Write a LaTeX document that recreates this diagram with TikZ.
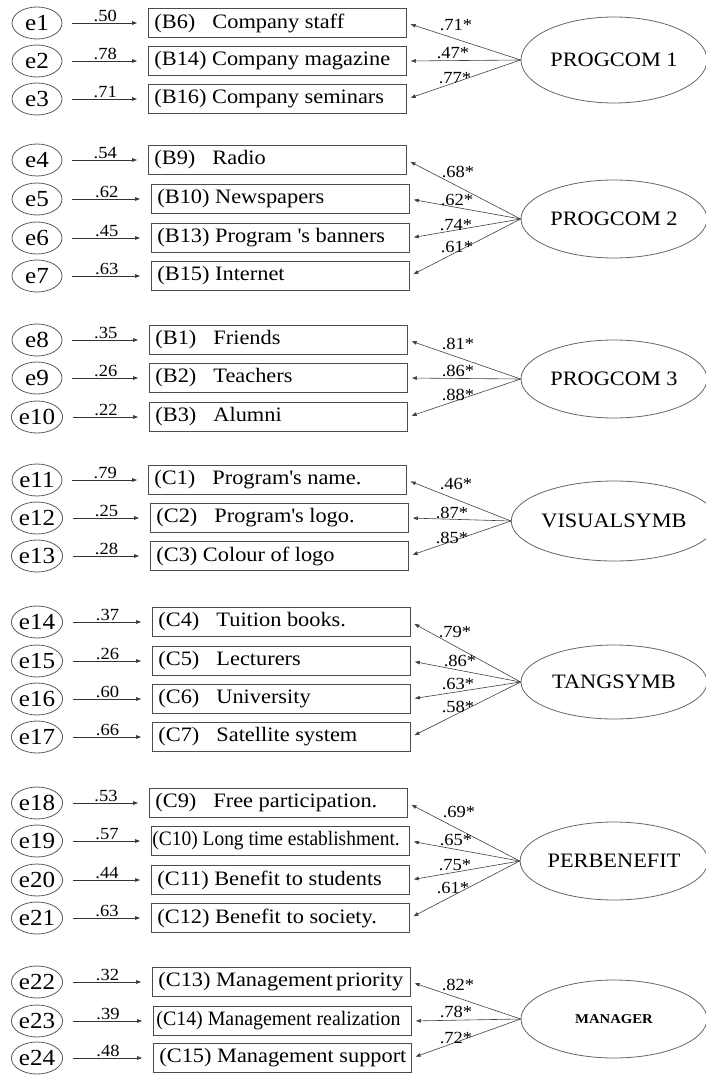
\documentclass[tikz,border=0pt]{standalone}
\usepackage{fontspec}
\setmainfont{Liberation Serif}[FakeStretch=1.09]
\usepackage{graphicx}
\usetikzlibrary{shapes.geometric,arrows.meta}

\tikzset{
  errnode/.style={ellipse, draw=black!65, line width=0.8pt, minimum width=50pt,
    minimum height=32pt, inner sep=0pt, font=\fontsize{23}{25}\selectfont},
  itembox/.style={rectangle, draw=black!70, line width=0.9pt, anchor=west,
    minimum height=29pt, minimum width=258pt, inner xsep=6pt, inner ysep=0pt,
    font=\fontsize{20.5}{22}\selectfont},
  factor/.style={ellipse, draw=black!60, line width=0.8pt, minimum width=186pt,
    minimum height=78pt, inner sep=0pt, font=\fontsize{20.5}{22}\selectfont},
  errarrow/.style={draw=black!80, line width=0.7pt,
    -{Triangle[length=5pt,width=3.6pt]}, shorten <=10pt, shorten >=11pt},
  loadarrow/.style={draw=black!75, line width=0.6pt,
    -{Triangle[length=5pt,width=3.6pt]}, shorten >=4pt},
  lbl/.style={font=\fontsize{17}{18}\selectfont, inner sep=1pt},
}

% item code set in a fixed-width column
\newcommand{\cd}[1]{\makebox[58pt][l]{#1}}
% straight apostrophe
\newcommand{\ap}{\textquotesingle}
% one indicator: error term, item box and the error path
\newcommand{\itemrow}[5]{%
  \node[errnode] (e#1) at (37,#2) {e#1};
  \node[itembox] (b#1) at (#3,#2) {\makebox[246pt][l]{#4}};
  \draw[errarrow] (e#1) -- (b#1.west) node[midway, above, lbl] (r#1) {#5};
}
% one loading: path from the factor to an item, with its estimate
\newcommand{\loadrow}[5]{%
  \draw[loadarrow] (#1.west) -- (b#2.east);
  \node[lbl] (l#2) at (#4,#5) {#3};
}

\begin{document}
\begin{tikzpicture}[x=1pt,y=-1pt]
\useasboundingbox (0,0) rectangle (706,1078);

% ---- PROGCOM 1
\itemrow{1}{23}{148}{\cd{(B6)}Company staff}{.50}
\itemrow{2}{61}{148}{(B14) Company magazine}{.78}
\itemrow{3}{99}{148}{(B16) Company seminars}{.71}
\node[factor, minimum height=86pt] (F1) at (614,60) {PROGCOM 1};
\loadrow{F1}{1}{.71*}{456}{25}
\loadrow{F1}{2}{.47*}{453}{53}
\loadrow{F1}{3}{.77*}{455}{78}

% ---- PROGCOM 2
\itemrow{4}{160}{148}{\cd{(B9)}Radio}{.54}
\itemrow{5}{199}{151}{(B10) Newspapers}{.62}
\itemrow{6}{238}{151}{(B13) Program \ap s banners}{.45}
\itemrow{7}{276}{151}{(B15) Internet}{.63}
\node[factor] (F2) at (614,219) {PROGCOM 2};
\loadrow{F2}{4}{.68*}{458}{172}
\loadrow{F2}{5}{.62*}{457}{200}
\loadrow{F2}{6}{.74*}{456}{225}
\loadrow{F2}{7}{.61*}{457}{247}

% ---- PROGCOM 3
\itemrow{8}{340}{149}{\cd{(B1)}Friends}{.35}
\itemrow{9}{378}{149}{\cd{(B2)}Teachers}{.26}
\itemrow{10}{417}{149}{\cd{(B3)}Alumni}{.22}
\node[factor] (F3) at (614,379) {PROGCOM 3};
\loadrow{F3}{8}{.81*}{458}{344}
\loadrow{F3}{9}{.86*}{458}{371}
\loadrow{F3}{10}{.88*}{458}{395}

% ---- VISUALSYMB
\itemrow{11}{480}{148}{\cd{(C1)}Program\ap s name.}{.79}
\itemrow{12}{518}{150}{\cd{(C2)}Program\ap s logo.}{.25}
\itemrow{13}{556}{150}{(C3) Colour of logo}{.28}
\node[factor, minimum height=80pt] (F4) at (614,521) {VISUALSYMB};
\loadrow{F4}{11}{.46*}{456}{484}
\loadrow{F4}{12}{.87*}{452}{513}
\loadrow{F4}{13}{.85*}{452}{538}

% ---- TANGSYMB
\itemrow{14}{622}{152}{\cd{(C4)}Tuition books.}{.37}
\itemrow{15}{661}{152}{\cd{(C5)}Lecturers}{.26}
\itemrow{16}{699}{152}{\cd{(C6)}University}{.60}
\itemrow{17}{737}{152}{\cd{(C7)}Satellite system}{.66}
\node[factor, minimum height=74pt] (F5) at (614,682) {TANGSYMB};
\loadrow{F5}{14}{.79*}{455}{632}
\loadrow{F5}{15}{.86*}{460}{661}
\loadrow{F5}{16}{.63*}{458}{684}
\loadrow{F5}{17}{.58*}{458}{707}

% ---- PERBENEFIT
\itemrow{18}{803}{149}{\cd{(C9)}Free participation.}{.53}
\itemrow{19}{841}{151}{\hspace*{-5pt}\scalebox{0.87}[1]{(C10) Long time establishment.}}{.57}
\itemrow{20}{880}{151}{(C11) Benefit to students}{.44}
\itemrow{21}{918}{151}{(C12) Benefit to society.}{.63}
\node[factor] (F6) at (614,861) {PERBENEFIT};
\loadrow{F6}{18}{.69*}{459}{812}
\loadrow{F6}{19}{.65*}{456}{840}
\loadrow{F6}{20}{.75*}{455}{865}
\loadrow{F6}{21}{.61*}{453}{888}

% ---- MANAGER
\itemrow{22}{982}{152}{(C13) Management\,priority}{.32}
\itemrow{23}{1021}{153}{\hspace*{-3pt}\scalebox{0.89}[1]{(C14) Management realization}}{.39}
\itemrow{24}{1058}{153}{(C15) Management support}{.48}
\node[factor, font=\bfseries\fontsize{13.5}{15}\selectfont] (F7) at (614,1019) {MANAGER};
\loadrow{F7}{22}{.82*}{458}{985}
\loadrow{F7}{23}{.78*}{456}{1012}
\loadrow{F7}{24}{.72*}{456}{1038}

\end{tikzpicture}
\end{document}
